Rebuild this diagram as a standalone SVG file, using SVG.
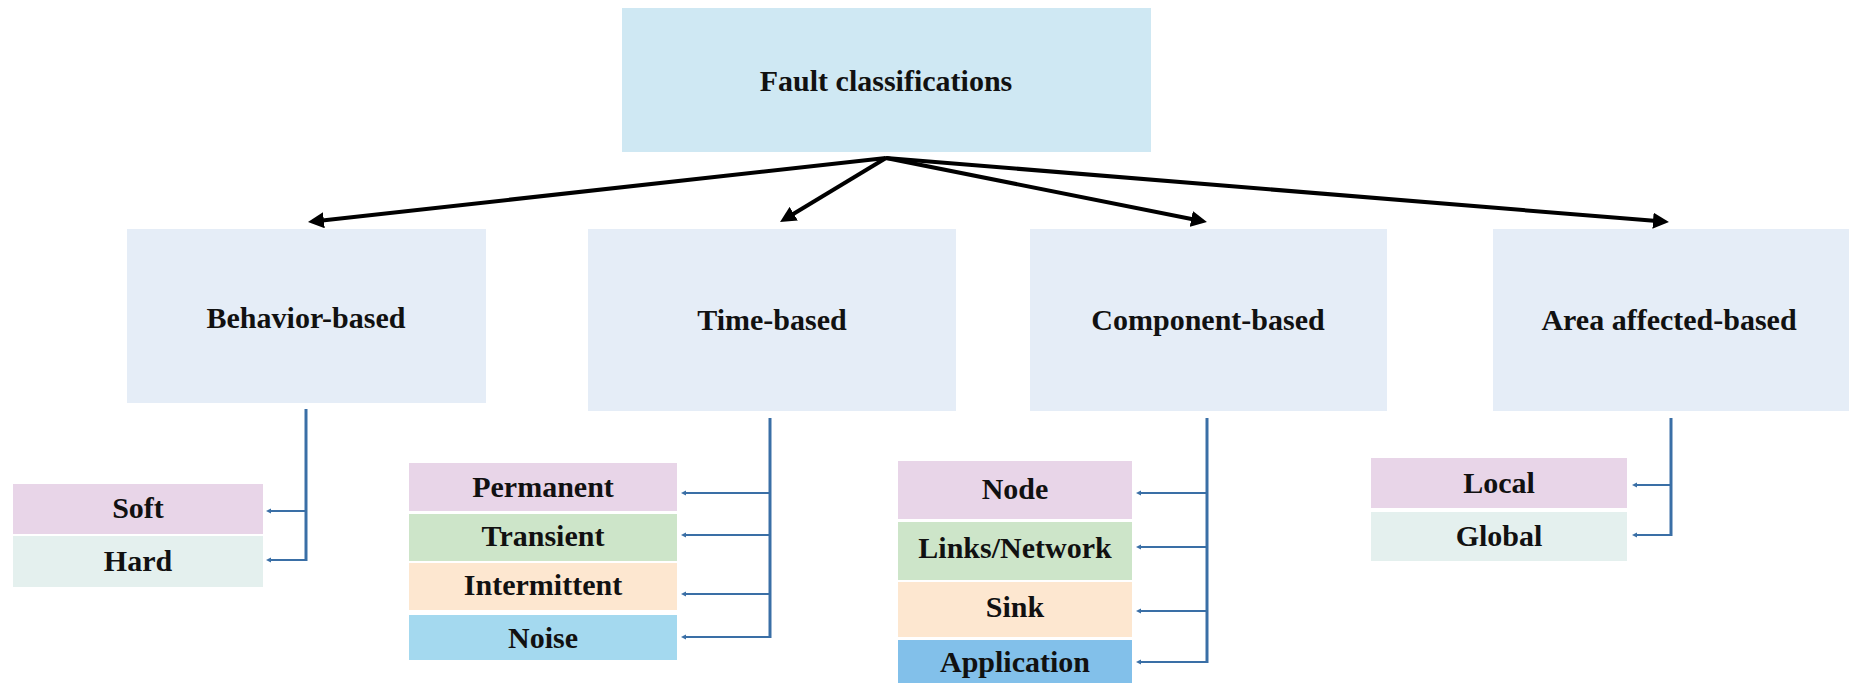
<svg xmlns="http://www.w3.org/2000/svg" width="1849" height="683" viewBox="0 0 1849 683">
<defs>
<style>
.t{font-family:"Liberation Serif","Times New Roman",serif;font-weight:bold;font-size:30px;fill:#111;text-anchor:middle}
.top{fill:#cfe8f3}
.l2{fill:#e5edf7}
.pink{fill:#e8d5e8}
.green{fill:#cde5c9}
.peach{fill:#fde7d0}
.sky{fill:#a4d9ef}
.blue{fill:#82c0ea}
.mint{fill:#e4f0ee}
.arr{stroke:#000;stroke-width:4;fill:none;marker-end:url(#ah)}
.br{stroke:#3a6fa6;stroke-width:3;fill:none}
.tk{stroke:#3a6fa6;stroke-width:2;fill:none;marker-end:url(#sh)}
</style>
<marker id="ah" markerUnits="userSpaceOnUse" markerWidth="16" markerHeight="16" viewBox="0 0 16 16" refX="4" refY="8" orient="auto">
<path d="M0,0 L16,8 L0,16 z" fill="#000"/>
</marker>
<marker id="sh" markerUnits="userSpaceOnUse" markerWidth="6" markerHeight="6" viewBox="0 0 6 6" refX="0" refY="3" orient="auto">
<path d="M0,0.5 L5,3 L0,5.5 z" fill="#3a6fa6"/>
</marker>
</defs>
<rect width="1849" height="683" fill="#fff"/>

<g id="root">
<rect class="top" x="622" y="8" width="529" height="144"/>
<text class="t" x="886" y="91">Fault classifications</text>
</g>

<g id="behavior">
<rect class="l2" x="127" y="229" width="359" height="174"/>
<text class="t" x="306" y="328">Behavior-based</text>
</g>
<g id="time">
<rect class="l2" x="588" y="229" width="368" height="182"/>
<text class="t" x="772" y="330">Time-based</text>
</g>
<g id="component">
<rect class="l2" x="1030" y="229" width="357" height="182"/>
<text class="t" x="1208" y="330">Component-based</text>
</g>
<g id="area">
<rect class="l2" x="1493" y="229" width="356" height="182"/>
<text class="t" x="1669" y="330">Area affected-based</text>
</g>

<g id="soft"><rect class="pink" x="13" y="484" width="250" height="50"/><text class="t" x="138" y="518">Soft</text></g>
<g id="hard"><rect class="mint" x="13" y="536" width="250" height="51"/><text class="t" x="138" y="571">Hard</text></g>

<g id="permanent"><rect class="pink" x="409" y="463" width="268" height="48"/><text class="t" x="543" y="497">Permanent</text></g>
<g id="transient"><rect class="green" x="409" y="514" width="268" height="47"/><text class="t" x="543" y="546">Transient</text></g>
<g id="intermittent"><rect class="peach" x="409" y="563" width="268" height="47"/><text class="t" x="543" y="595">Intermittent</text></g>
<g id="noise"><rect class="sky" x="409" y="615" width="268" height="45"/><text class="t" x="543" y="648">Noise</text></g>

<g id="node"><rect class="pink" x="898" y="461" width="234" height="58"/><text class="t" x="1015" y="499">Node</text></g>
<g id="links"><rect class="green" x="898" y="522" width="234" height="58"/><text class="t" x="1015" y="558">Links/Network</text></g>
<g id="sink"><rect class="peach" x="898" y="582" width="234" height="55"/><text class="t" x="1015" y="617">Sink</text></g>
<g id="application"><rect class="blue" x="898" y="640" width="234" height="50"/><text class="t" x="1015" y="672">Application</text></g>

<g id="local"><rect class="pink" x="1371" y="458" width="256" height="50"/><text class="t" x="1499" y="493">Local</text></g>
<g id="global"><rect class="mint" x="1371" y="512" width="256" height="49"/><text class="t" x="1499" y="546">Global</text></g>

<g id="connectors">
<line class="arr" x1="886" y1="158" x2="319.9" y2="220.7"/>
<line class="arr" x1="886" y1="158" x2="790.3" y2="215.8"/>
<line class="arr" x1="886" y1="158" x2="1195.2" y2="219.7"/>
<line class="arr" x1="886" y1="158" x2="1657" y2="221"/>

<path class="br" d="M306,409 V561"/>
<line class="tk" x1="306" y1="511" x2="271" y2="511"/>
<line class="tk" x1="307" y1="560" x2="271" y2="560"/>

<path class="br" d="M770,418 V638"/>
<line class="tk" x1="770" y1="493" x2="686" y2="493"/>
<line class="tk" x1="770" y1="535" x2="686" y2="535"/>
<line class="tk" x1="770" y1="594" x2="686" y2="594"/>
<line class="tk" x1="771" y1="637" x2="686" y2="637"/>

<path class="br" d="M1207,418 V663"/>
<line class="tk" x1="1207" y1="493" x2="1141" y2="493"/>
<line class="tk" x1="1207" y1="547" x2="1141" y2="547"/>
<line class="tk" x1="1207" y1="611" x2="1141" y2="611"/>
<line class="tk" x1="1208" y1="662" x2="1141" y2="662"/>

<path class="br" d="M1671,418 V536"/>
<line class="tk" x1="1671" y1="485" x2="1637" y2="485"/>
<line class="tk" x1="1672" y1="535" x2="1637" y2="535"/>
</g>
</svg>
